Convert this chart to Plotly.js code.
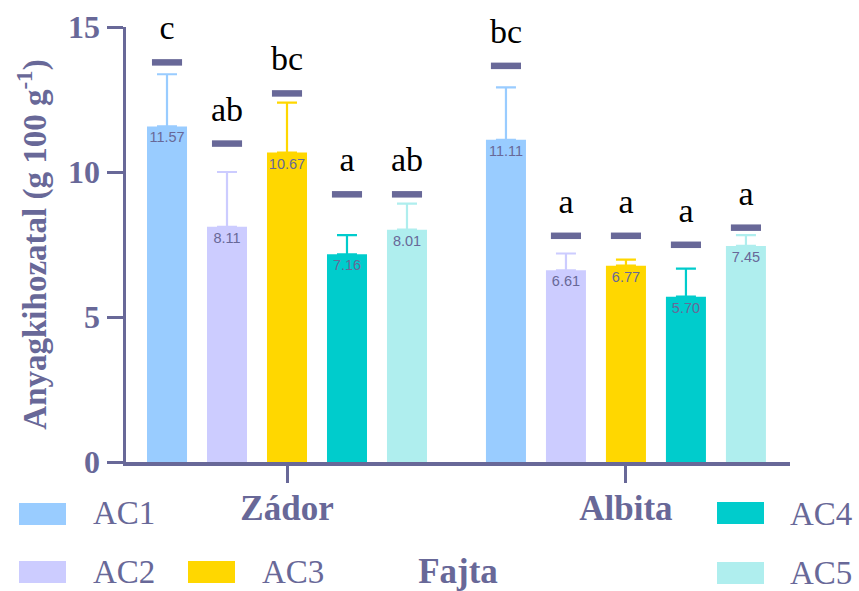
<!DOCTYPE html>
<html>
<head>
<meta charset="utf-8">
<script src="https://cdn.plot.ly/plotly-3.0.1.min.js"></script>
<style>html,body{margin:0;padding:0;background:#fff;}#chart{width:859px;height:591px;}</style>
</head>
<body>
<div id="chart"></div>
<script>
// ---- data ----
const groups = ['Zádor', 'Albita'];
const seriesNames = ['AC1', 'AC2', 'AC3', 'AC4', 'AC5'];
const seriesColors = ['#99CCFF', '#CCCCFF', '#FFD700', '#00CCCC', '#AFEEEE'];

const meanAC1 = [11.57, 11.11];
const meanAC2 = [8.11, 6.61];
const meanAC3 = [10.67, 6.77];
const meanAC4 = [7.16, 5.70];
const meanAC5 = [8.01, 7.45];

const errAC1 = [1.80, 1.81];
const errAC2 = [1.89, 0.58];
const errAC3 = [1.72, 0.21];
const errAC4 = [0.66, 0.97];
const errAC5 = [0.90, 0.37];

// significance marker heights and letters
const sigAC1 = [13.78, 13.66];
const sigAC2 = [10.98, 7.80];
const sigAC3 = [12.71, 7.80];
const sigAC4 = [9.23, 7.49];
const sigAC5 = [9.23, 8.08];

const letAC1 = ['c', 'bc'];
const letAC2 = ['ab', 'a'];
const letAC3 = ['bc', 'a'];
const letAC4 = ['a', 'a'];
const letAC5 = ['ab', 'a'];

const yTickVals = [0, 5, 10, 15];
const yTitle = 'Anyagkihozatal (g 100 g<sup>-1</sup>)';
const xTitle = 'Fajta';

// ---- styling ----
const AX = '#686898';
const SERIF = 'Liberation Serif';
const SANS = 'Liberation Sans';

const means = [meanAC1, meanAC2, meanAC3, meanAC4, meanAC5];
const errs = [errAC1, errAC2, errAC3, errAC4, errAC5];
const sigs = [sigAC1, sigAC2, sigAC3, sigAC4, sigAC5];
const lets = [letAC1, letAC2, letAC3, letAC4, letAC5];

const W = 859, H = 591;
const M = {l: 126, r: 69, t: 27, b: 129};
const PW = W - M.l - M.r, PH = H - M.t - M.b;
const px = v => (v - M.l) / PW;
const py = v => (H - M.b - v) / PH;

const traces = [];
seriesNames.forEach((name, i) => {
  traces.push({
    type: 'bar', name: name, x: groups, y: means[i],
    marker: {color: seriesColors[i], line: {width: 0}},
    texttemplate: '%{y:.2f}', textposition: 'inside', insidetextanchor: 'end',
    constraintext: 'none', textangle: 0,
    insidetextfont: {family: SANS, size: 14.5, color: AX},
    error_y: {type: 'data', symmetric: false, array: errs[i], arrayminus: [0, 0],
              color: seriesColors[i], thickness: 2.2, width: 10},
    showlegend: false, hoverinfo: 'skip'
  });
});
seriesNames.forEach((name, i) => {
  traces.push({
    type: 'scatter', mode: 'markers+text', name: name + ' sig', x: groups, y: sigs[i],
    text: lets[i], textposition: 'top center',
    textfont: {family: SERIF, size: 34, color: '#000000'},
    marker: {symbol: 'line-ew', size: 21.5, color: AX, line: {width: 6.5, color: AX}},
    cliponaxis: false, showlegend: false, hoverinfo: 'skip'
  });
});

// manual legend
const legendPos = [
  {sx: 19, sy: 503, tx: 91, ty: 513},
  {sx: 19, sy: 561, tx: 91, ty: 572},
  {sx: 188, sy: 561, tx: 260, ty: 572},
  {sx: 717, sy: 502, tx: 788, ty: 514},
  {sx: 717, sy: 562, tx: 788, ty: 573}
];
const shapes = [], annotations = [];
seriesNames.forEach((name, i) => {
  const p = legendPos[i];
  shapes.push({type: 'rect', xref: 'paper', yref: 'paper',
    x0: px(p.sx), x1: px(p.sx + 47), y0: py(p.sy), y1: py(p.sy + 22),
    fillcolor: seriesColors[i], line: {width: 0}});
  annotations.push({xref: 'paper', yref: 'paper', x: px(p.tx), y: py(p.ty),
    xanchor: 'left', yanchor: 'middle', showarrow: false, text: name,
    font: {family: SERIF, size: 33, color: AX}});
});

const layout = {
  width: W, height: H,
  margin: M,
  paper_bgcolor: '#fff', plot_bgcolor: '#fff',
  barmode: 'group', bargap: 0.115, bargroupgap: 0.333,
  scattermode: 'group', scattergap: 0.115,
  showlegend: false,
  xaxis: {
    type: 'category', range: [-0.475, 1.484],
    showline: true, linecolor: AX, linewidth: 3.5,
    ticks: 'outside', ticklen: 17, tickwidth: 3, tickcolor: AX,
    ticklabelstandoff: -5,
    tickfont: {family: SERIF, size: 35, color: AX, weight: 'bold'},
    showgrid: false, zeroline: false,
    title: {text: xTitle, font: {family: SERIF, size: 35, color: AX, weight: 'bold'}, standoff: 43}
  },
  yaxis: {
    range: [0, 15], tickvals: yTickVals,
    showline: true, linecolor: AX, linewidth: 3.5,
    ticks: 'outside', ticklen: 16, tickwidth: 3, tickcolor: AX,
    tickfont: {family: SERIF, size: 32, color: AX, weight: 'bold'},
    showgrid: false, zeroline: false,
    title: {text: yTitle, font: {family: SERIF, size: 33, color: AX, weight: 'bold'}, standoff: 12}
  },
  shapes: shapes,
  annotations: annotations
};

Plotly.newPlot('chart', traces, layout, {staticPlot: true, displayModeBar: false});
</script>
</body>
</html>
